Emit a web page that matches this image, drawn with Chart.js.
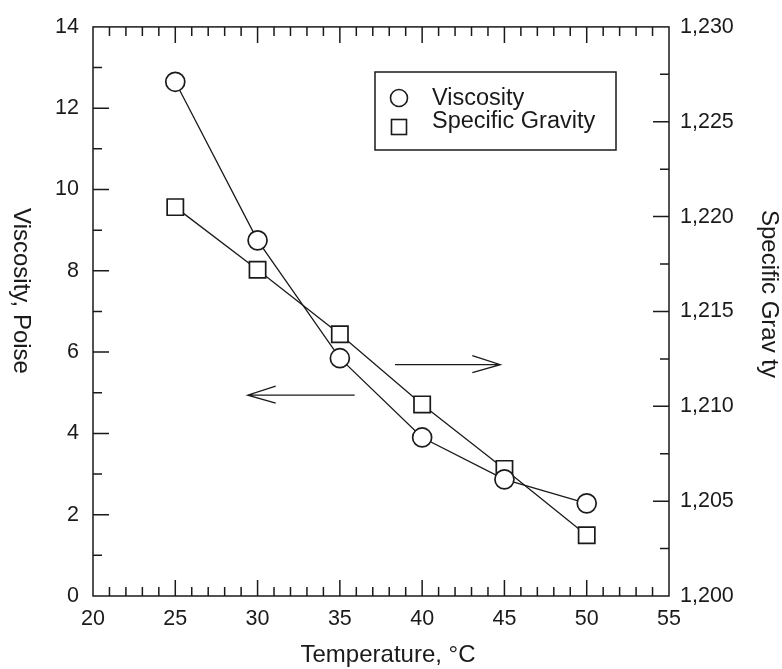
<!DOCTYPE html>
<html>
<head>
<meta charset="utf-8">
<script src="https://cdn.jsdelivr.net/npm/chart.js@4.4.1/dist/chart.umd.min.js"></script>
<style>
  body { margin: 0; background: #fff; }
  #wrap { width: 782px; height: 669px; }
</style>
</head>
<body>
<div id="wrap"><canvas id="c" width="782" height="669"></canvas></div>
<script>
// data
const temps = [25, 30, 35, 40, 45, 50];
const viscosity = [12.65, 8.75, 5.85, 3.9, 2.87, 2.28];
const gravity = [1.2205, 1.2172, 1.2138, 1.2101, 1.2067, 1.2032];

const xTickValues = [20, 25, 30, 35, 40, 45, 50, 55];
const viscTickValues = [0, 2, 4, 6, 8, 10, 12, 14];
const gravTickValues = [1.200, 1.205, 1.210, 1.215, 1.220, 1.225, 1.230];

const ink = '#1a1a1a';
const FONT = '"Liberation Sans", Arial, Helvetica, sans-serif';

function setTicks(values) {
    return function (scale) {
        scale.ticks = values.map(v => ({ value: v }));
    };
}

// frame, inward ticks (major + minor), legend, arrows, rotated titles
const decor = {
    id: 'decor',
    beforeDatasetsDraw(chart) {
        const ctx = chart.ctx;
        const a = chart.chartArea;
        const sx = chart.scales.x, sy = chart.scales.y, s2 = chart.scales.y2;
        ctx.save();
        ctx.strokeStyle = ink;
        ctx.lineWidth = 1.5;
        ctx.strokeRect(a.left, a.top, a.right - a.left, a.bottom - a.top);
        ctx.beginPath();
        for (let t = 21; t < 55; t++) {
            const len = t % 5 === 0 ? 16 : 9;
            const px = sx.getPixelForValue(t);
            ctx.moveTo(px, a.bottom); ctx.lineTo(px, a.bottom - len);
            ctx.moveTo(px, a.top); ctx.lineTo(px, a.top + len);
        }
        for (let v = 1; v < 14; v++) {
            const len = v % 2 === 0 ? 16 : 9;
            const py = sy.getPixelForValue(v);
            ctx.moveTo(a.left, py); ctx.lineTo(a.left + len, py);
        }
        for (let i = 1; i < 12; i++) {
            const len = i % 2 === 0 ? 16 : 9;
            const py = s2.getPixelForValue(1.2 + i * 0.0025);
            ctx.moveTo(a.right, py); ctx.lineTo(a.right - len, py);
        }
        ctx.stroke();
        ctx.restore();
    },
    afterDraw(chart) {
        const ctx = chart.ctx;
        const sx = chart.scales.x, sy = chart.scales.y;
        ctx.save();
        ctx.strokeStyle = ink;
        ctx.fillStyle = ink;

        // legend box
        ctx.lineWidth = 1.5;
        ctx.strokeRect(375, 72, 241, 78);
        ctx.lineWidth = 1.6;
        ctx.beginPath();
        ctx.arc(399, 98, 8.5, 0, Math.PI * 2);
        ctx.stroke();
        ctx.strokeRect(391.5, 119.5, 15, 15);
        ctx.font = '23.5px ' + FONT;
        ctx.textAlign = 'left';
        ctx.textBaseline = 'alphabetic';
        ctx.fillText(chart.data.datasets[0].label, 432, 105);
        ctx.fillText(chart.data.datasets[1].label, 432, 128);

        // arrows pointing to the axis each curve belongs to
        ctx.lineWidth = 1.3;
        const arrow = (x0, x1, yv) => {
            const p0 = sx.getPixelForValue(x0), p1 = sx.getPixelForValue(x1);
            const py = sy.getPixelForValue(yv);
            const dir = Math.sign(p1 - p0);
            ctx.beginPath();
            ctx.moveTo(p0, py); ctx.lineTo(p1, py);
            ctx.moveTo(p1 - dir * 28, py - 9); ctx.lineTo(p1, py); ctx.lineTo(p1 - dir * 28, py + 8);
            ctx.stroke();
        };
        arrow(38.35, 44.75, 5.69);
        arrow(35.9, 29.4, 4.94);

        // axis titles
        ctx.font = '24px ' + FONT;
        ctx.textAlign = 'center';
        ctx.textBaseline = 'middle';
        ctx.fillText('Temperature, \u00B0C', 388, 655);
        ctx.save();
        ctx.translate(21, 291);
        ctx.rotate(Math.PI / 2);
        ctx.fillText('Viscosity, Poise', 0, 0);
        ctx.restore();
        ctx.save();
        ctx.translate(769, 294);
        ctx.rotate(Math.PI / 2);
        ctx.fillText('Specific Grav ty', 0, 0);
        ctx.restore();
        ctx.restore();
    }
};

const ctx = document.getElementById('c');
new Chart(ctx, {
    type: 'scatter',
    data: {
        datasets: [
            {
                label: 'Viscosity',
                data: temps.map((t, i) => ({ x: t, y: viscosity[i] })),
                yAxisID: 'y',
                showLine: true,
                borderColor: ink,
                borderWidth: 1.3,
                pointStyle: 'circle',
                pointRadius: 9.5,
                pointBorderWidth: 1.7,
                pointBorderColor: ink,
                pointBackgroundColor: '#fff'
            },
            {
                label: 'Specific Gravity',
                data: temps.map((t, i) => ({ x: t, y: gravity[i] })),
                yAxisID: 'y2',
                showLine: true,
                borderColor: ink,
                borderWidth: 1.3,
                pointStyle: 'rect',
                pointRadius: 11.5,
                pointBorderWidth: 1.7,
                pointBorderColor: ink,
                pointBackgroundColor: '#fff'
            }
        ]
    },
    options: {
        responsive: false,
        devicePixelRatio: 1,
        animation: false,
        layout: { padding: { top: 18, left: 0, right: 0, bottom: 0 } },
        plugins: {
            legend: { display: false },
            tooltip: { enabled: false }
        },
        scales: {
            x: {
                type: 'linear',
                position: 'bottom',
                min: 20,
                max: 55,
                afterBuildTicks: setTicks(xTickValues),
                afterFit: s => { s.height = 73; },
                grid: { display: false, drawTicks: false },
                border: { display: false },
                ticks: { padding: 10, color: ink, font: { family: FONT, size: 21.5 }, maxRotation: 0 }
            },
            y: {
                position: 'left',
                min: 0,
                max: 14,
                afterBuildTicks: setTicks(viscTickValues),
                afterFit: s => { s.width = 93; },
                grid: { display: false, drawTicks: false },
                border: { display: false },
                ticks: { padding: 14, color: ink, font: { family: FONT, size: 21.5 } }
            },
            y2: {
                position: 'right',
                min: 1.2,
                max: 1.23,
                afterBuildTicks: setTicks(gravTickValues),
                afterFit: s => { s.width = 113; },
                grid: { display: false, drawTicks: false },
                border: { display: false },
                ticks: {
                    padding: 11,
                    color: ink,
                    font: { family: FONT, size: 21.5 },
                    callback: v => v.toFixed(3).replace('.', ',')
                }
            }
        }
    },
    plugins: [decor]
});
</script>
</body>
</html>
